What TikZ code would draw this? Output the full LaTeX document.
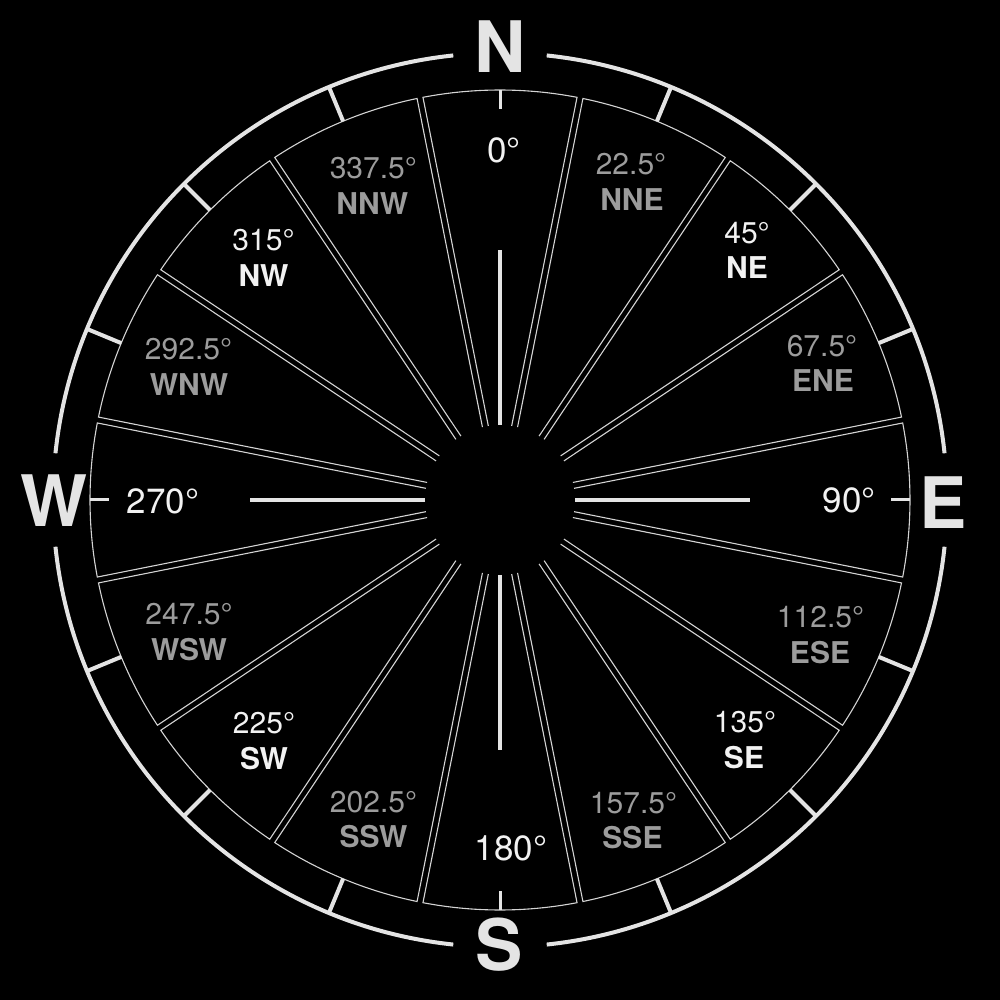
\documentclass[tikz,border=0pt]{standalone}
\usepackage{fontspec}
\setmainfont{TeX Gyre Heros}
\definecolor{ringcol}{HTML}{E4E4E4}
\definecolor{wedgecol}{HTML}{D4D4D4}
\definecolor{primcol}{HTML}{F2F2F2}
\definecolor{seccol}{HTML}{9C9C9C}
\begin{document}
\begin{tikzpicture}[x=1pt,y=1pt,
  wedgeline/.style={draw=wedgecol, line width=1.1pt, line join=miter},
  ring/.style={draw=ringcol, line width=4pt},
  ringtick/.style={draw=ringcol, line width=4pt},
  cardtick/.style={draw=ringcol, line width=3pt},
  axisline/.style={draw=ringcol, line width=4pt},
  lbl/.style={anchor=base, inner sep=0pt},
  cardletter/.style={lbl, text=ringcol, font=\fontsize{71}{71}\selectfont\bfseries},
  biglabel/.style={lbl, text=primcol, font=\fontsize{35}{35}\selectfont},
  primdeg/.style={lbl, text=primcol, font=\fontsize{30}{30}\selectfont},
  primname/.style={lbl, text=primcol, font=\fontsize{30}{30}\selectfont\bfseries},
  secdeg/.style={lbl, text=seccol, font=\fontsize{30}{30}\selectfont},
  secname/.style={lbl, text=seccol, font=\fontsize{30}{30}\selectfont\bfseries}
]
\fill[black] (-500,-500) rectangle (500,500);
\useasboundingbox (-500,-500) rectangle (500,500);

% wedges
\foreach \k in {0,...,15}{
  \pgfmathsetmacro{\angA}{90-22.5*\k+11.25-2.2924}
  \pgfmathsetmacro{\angB}{90-22.5*\k+11.25-0.4192}
  \pgfmathsetmacro{\angC}{90-22.5*\k-11.25+0.4192}
  \pgfmathsetmacro{\angD}{90-22.5*\k-11.25+2.2924}
  \draw[wedgeline] (\angA:75pt) -- (\angB:410pt)
     arc[start angle=\angB, end angle=\angC, radius=410pt] -- (\angD:75pt);
}

% outer ring
\foreach \s in {6,96,186,276}{
  \draw[ring] (\s:447pt) arc[start angle=\s, end angle=\s+78, radius=447pt];
}
% ring ticks
\foreach \k in {1,2,3,5,6,7,9,10,11,13,14,15}{
  \pgfmathsetmacro{\angT}{90-22.5*\k}
  \draw[ringtick] (\angT:410pt) -- (\angT:447pt);
}
% cardinal ticks and axis lines
\foreach \a in {0,90,180,270}{
  \draw[cardtick] (\a:391pt) -- (\a:410pt);
  \draw[axisline] (\a:75pt) -- (\a:250pt);
}

% cardinal letters
\node[cardletter] (lN) at (0,427) {N};
\node[cardletter] (lE) at (443,-29) {E};
\node[cardletter] (lS) at (-1,-470) {S};
\node[cardletter] (lW) at (-446,-27) {W};

% cardinal degrees
\node[biglabel] (d0) at (4,337) {0°};
\node[biglabel] (d90) at (349,-12.7) {90°};
\node[biglabel] (d180) at (11,-360) {180°};
\node[biglabel] (d270) at (-337,-14) {270°};

% intercardinals
\node[primdeg] (d45) at (247,256.8) {45°};
\node[primname] (nNE) at (247,221.3) {NE};
\node[primdeg] (d135) at (245,-232.7) {135°};
\node[primname] (nSE) at (244,-268.2) {SE};
\node[primdeg] (d225) at (-236,-233.7) {225°};
\node[primname] (nSW) at (-236,-269.7) {SW};
\node[primdeg] (d315) at (-236.5,249.3) {315°};
\node[primname] (nNW) at (-236.5,213.3) {NW};

% secondary
\node[secdeg] (d22) at (131,325.3) {22.5°};
\node[secname] (nNNE) at (132,289.3) {NNE};
\node[secdeg] (d67) at (322,143.8) {67.5°};
\node[secname] (nENE) at (323,108.3) {ENE};
\node[secdeg] (d112) at (320.5,-127.7) {112.5°};
\node[secname] (nESE) at (320,-163.2) {ESE};
\node[secdeg] (d157) at (133.5,-313.2) {157.5°};
\node[secname] (nSSE) at (132.5,-348.7) {SSE};
\node[secdeg] (d202) at (-126.5,-312.7) {202.5°};
\node[secname] (nSSW) at (-126.5,-347.7) {SSW};
\node[secdeg] (d247) at (-311,-124.7) {247.5°};
\node[secname] (nWSW) at (-311,-160.7) {WSW};
\node[secdeg] (d292) at (-311.5,140.3) {292.5°};
\node[secname] (nWNW) at (-311,104.3) {WNW};
\node[secdeg] (d337) at (-126.7,321.5) {337.5°};
\node[secname] (nNNW) at (-127.7,285.3) {NNW};
\end{tikzpicture}
\end{document}
